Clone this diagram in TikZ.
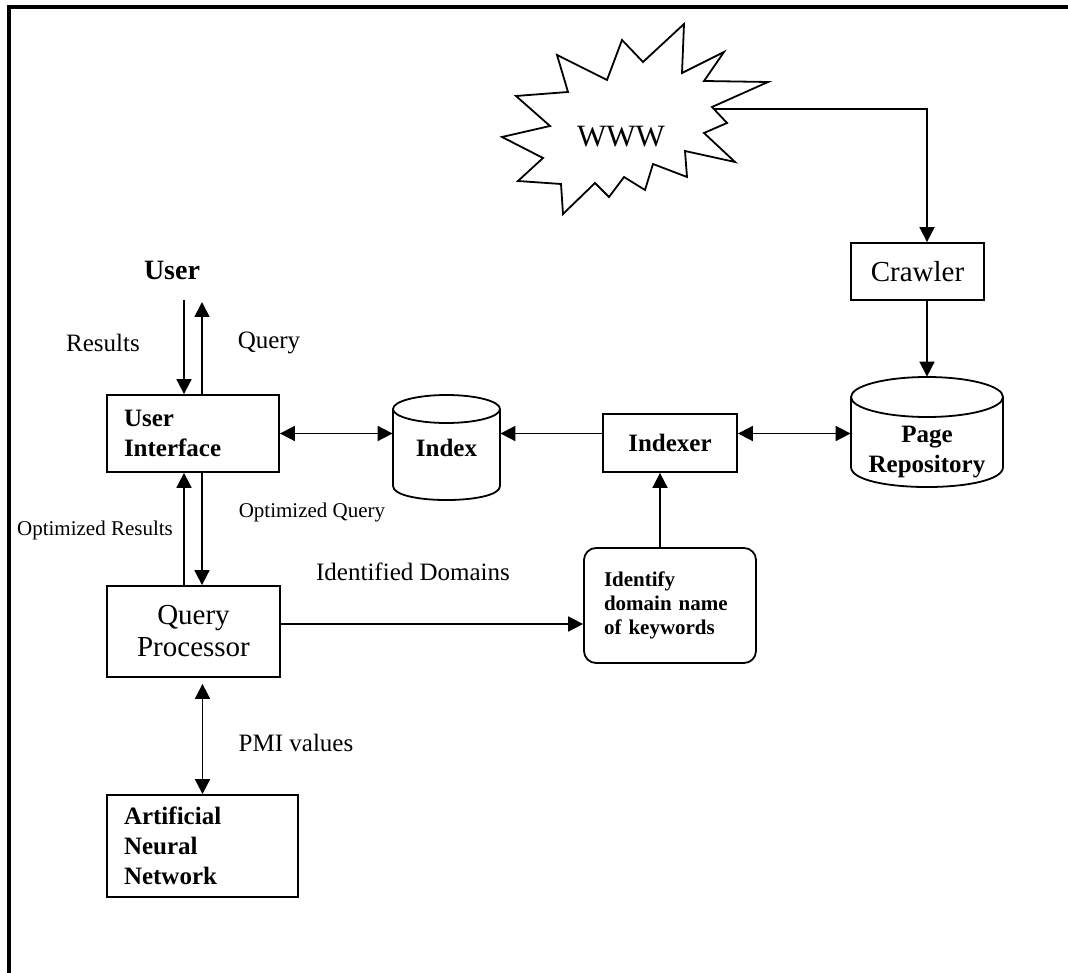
\documentclass[tikz,border=0pt]{standalone}
\usepackage{fontspec}
\setmainfont{Liberation Serif}
\usetikzlibrary{arrows.meta}

\begin{document}
\begin{tikzpicture}[x=0.5pt, y=-0.5pt,
        box/.style={draw, line width=0.9pt, inner sep=0pt},
        arr/.style={line width=0.9pt, -{Triangle[length=7.5pt,width=7.5pt]}},
        dbl/.style={line width=0.9pt, {Triangle[length=7.5pt,width=7.5pt]}-{Triangle[length=7.5pt,width=7.5pt]}},
        big/.style={font=\fontsize{14.5}{16}\selectfont},
        lbl/.style={font=\fontsize{12.5}{15}\selectfont},
        small/.style={font=\fontsize{10.5}{12}\selectfont},
        bold/.style={font=\fontsize{12.5}{15}\selectfont\bfseries},
        sbold/.style={font=\fontsize{10.5}{12}\selectfont\bfseries}]
    \useasboundingbox (0,0) rectangle (1068,972);
    \clip (0,0) rectangle (1068,972);

    % Moldura
    \draw[line width=2pt] (9,990) -- (9,7) -- (1080,7);

    % WWW
    \draw[line width=0.9pt] (684,24) -- (682,73) -- (724,52) -- (704,81) -- (768,82)
        -- (712,107) -- (727,123) -- (704,133) -- (735,162) -- (685,151) -- (687,177)
        -- (653,164) -- (645,190) -- (624,177) -- (609,197) -- (595,183) -- (563,214)
        -- (561,184) -- (518,181) -- (543,158) -- (502,137) -- (550,126) -- (516,96)
        -- (568,92) -- (557,55) -- (607,80) -- (622,40) -- (643,62) -- cycle;
    \node[font=\fontsize{15.5}{18}\selectfont] (www) at (621,137) {WWW};
    \coordinate (wr) at (714,109);

    % Blocos
    \node[box, big, minimum width=66.5pt, minimum height=28.5pt] (crw) at (917.5,271.5) {Crawler};
    \node[box, bold, minimum width=67pt, minimum height=29pt] (ixr) at (670,443) {Indexer};
    \node[box, bold, minimum width=86pt, minimum height=38.5pt, text width=69pt, align=left] (ui) at (193,433.5) {User\\Interface};
    \node[box, big, minimum width=86.5pt, minimum height=45.5pt, align=center] (qp) at (193.5,631.5) {Query\\Processor};
    \node[box, bold, minimum width=95.5pt, minimum height=51pt, text width=78.5pt, align=left] (ann) at (202.5,846) {Artificial\\Neural\\Network};
    \node[box, sbold, rounded corners=6pt, minimum width=86pt, minimum height=57.5pt, text width=66pt, align=left] (idf) at (670,605.5) {Identify\\domain name\\of keywords};
    \node[font=\fontsize{14}{16}\selectfont\bfseries] (user) at (172,270) {User};

    % Cilindros
    \draw[line width=0.9pt] (446.5,409) ellipse [x radius=53.5, y radius=14];
    \draw[line width=0.9pt] (393,409) -- (393,486) .. controls (393,504.7) and (500,504.7) .. (500,486) -- (500,409);
    \node[bold, minimum width=53.5pt, minimum height=52.5pt, inner sep=0pt] (idx) at (446.5,447.5) {Index};

    \draw[line width=0.9pt] (927,397) ellipse [x radius=76, y radius=20];
    \draw[line width=0.9pt] (851,397) -- (851,467) .. controls (851,493.7) and (1003,493.7) .. (1003,467) -- (1003,397);
    \node[minimum width=76pt, minimum height=55pt, inner sep=0pt] (repo) at (927,432) {};
    \node[bold, align=center] (repo-t) at (927,452) {Page\\Repository};

    % Setas
    \draw[arr] (wr) -| (repo.north |- crw.north);
    \draw[arr] (repo.north |- crw.south) -- (repo.north);
    \draw[dbl] (ixr.east |- ui.east) -- (ui.east -| repo.west);
    \draw[arr] (ixr.west |- ui.east) -- (ui.east -| idx.east);
    \draw[dbl] (ui.east) -- (idx.west |- ui.east);
    \draw[arr] ([xshift=-5pt]idf.north) -- ([xshift=-5pt]ixr.south);
    \draw[arr] ([yshift=3.75pt]qp.east) -- ([yshift=3.75pt]qp.east -| idf.west);
    \draw[dbl, shorten <=3pt] (qp.south -| ann.north) -- (ann.north);

    \coordinate (res) at (184,300);
    \coordinate (qry) at (202,302);
    \draw[arr] (res) -- (res |- ui.north);
    \draw[arr] (ui.north -| qry) -- (qry);
    \draw[arr] (qp.north -| res) -- (ui.south -| res);
    \draw[arr] (ui.south -| qry) -- (qp.north -| qry);

    % Rotulos
    \node[lbl] (l-res) at (103,343) {Results};
    \node[lbl] (l-qry) at (269,343) {Query};
    \node[small] (l-oq) at (312,512) {Optimized Query};
    \node[small] (l-or) at (95,530) {Optimized Results};
    \node[lbl] (l-dom) at (413,572) {Identified Domains};
    \node[lbl] (l-pmi) at (296,743) {PMI values};
\end{tikzpicture}
\end{document}
